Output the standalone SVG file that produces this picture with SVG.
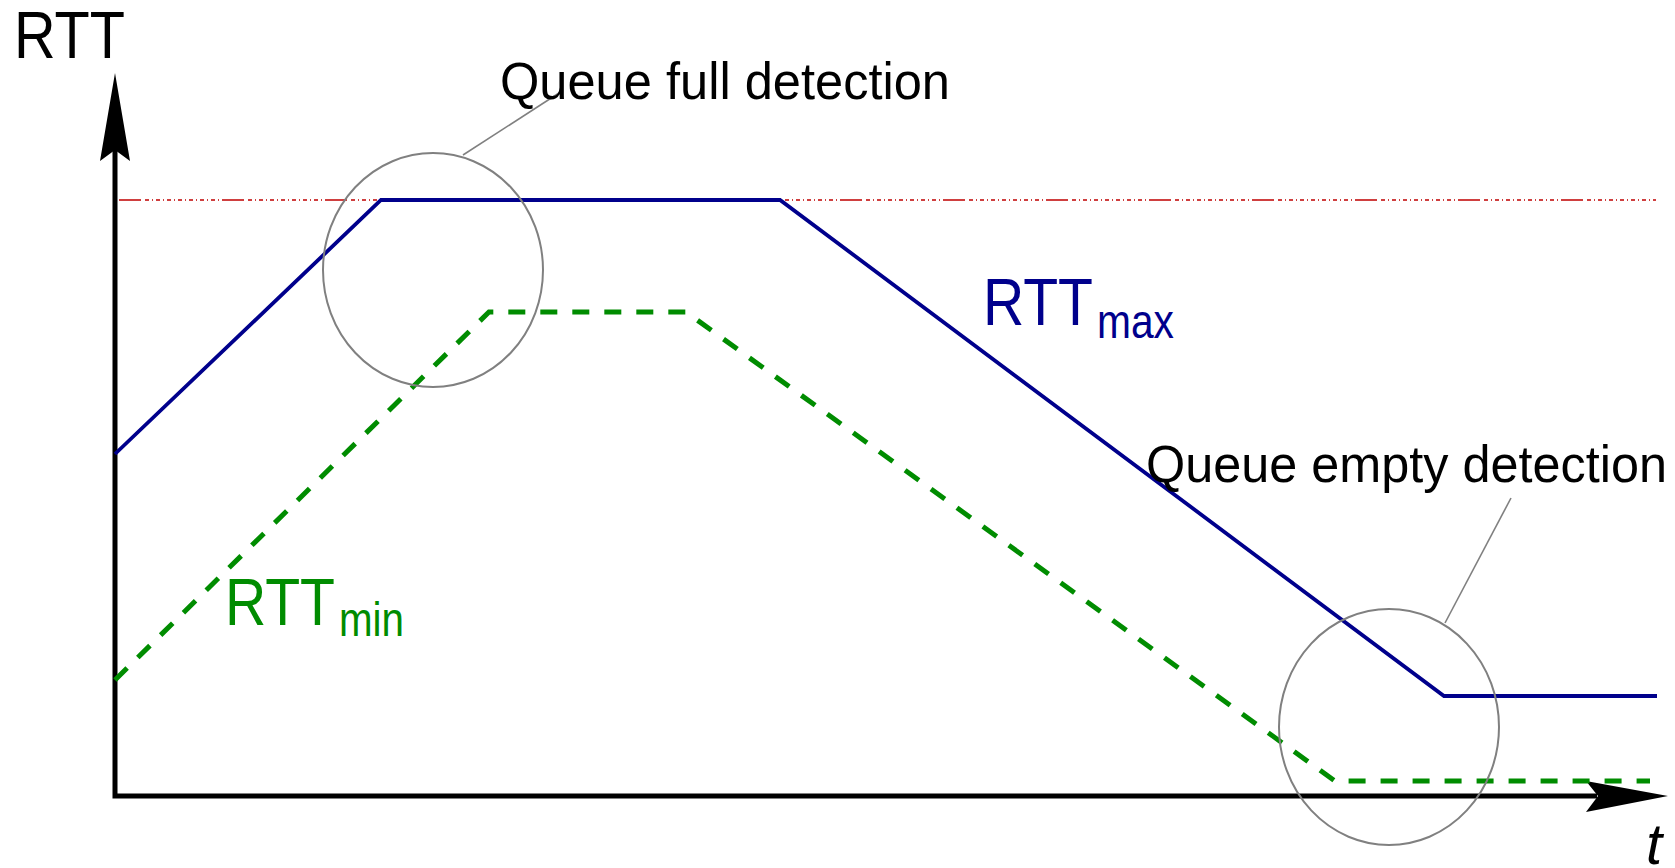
<svg xmlns="http://www.w3.org/2000/svg" width="1675" height="868" viewBox="0 0 1675 868">
<style>
.lbl{font-family:"Liberation Sans",Arial,sans-serif;fill:#000}
.axis{stroke:#000;stroke-width:5;fill:none}
.ring{stroke:#808080;stroke-width:2;fill:none}
.lead{stroke:#808080;stroke-width:1.6;fill:none}
.max{stroke:#00008c;stroke-width:3.8;fill:none;stroke-linejoin:miter}
.min{stroke:#008c00;stroke-width:5;fill:none;stroke-dasharray:17 15}
.ref{stroke:#c00000;stroke-width:1.6;fill:none;stroke-dasharray:22 4 4 3 1 3 4 3 1 3 4 3 1 3 4 3 1 3 4 3 1 3 4 3 1 3 4 3 1 3}
</style>
<rect width="1675" height="868" fill="#fff"/>
<g id="reference-line">
<line class="ref" x1="119" y1="200" x2="1656" y2="200"/>
</g>
<g id="axes">
<polyline class="axis" points="115,150 115,796 1597,796"/>
<polygon points="115,73 130,161 115,150 100,161" fill="#000"/>
<polygon points="1668,796 1586,781 1598,796 1586,812" fill="#000"/>
<text class="lbl" x="14" y="58" font-size="67" textLength="111" lengthAdjust="spacingAndGlyphs">RTT</text>
<text class="lbl" x="1646" y="864" font-size="58" font-style="italic">t</text>
</g>
<g id="connectors">
<polyline id="rtt-max" class="max" points="115,454 381,200 780,200 1444,696 1657,696"/>
<polyline id="rtt-min" class="min" points="115,680 489,312 686,312 1335,781 1650,781"/>
<line class="lead" x1="463" y1="155" x2="559" y2="93"/>
<line class="lead" x1="1445" y1="623" x2="1511" y2="498"/>
</g>
<g id="label-rtt-max">
<text class="lbl" x="983" y="325" font-size="67" style="fill:#00008c"><tspan textLength="110" lengthAdjust="spacingAndGlyphs">RTT</tspan><tspan x="1097" y="338" font-size="48" textLength="77" lengthAdjust="spacingAndGlyphs">max</tspan></text>
</g>
<g id="label-rtt-min">
<text class="lbl" x="225" y="625" font-size="67" style="fill:#008c00"><tspan textLength="110" lengthAdjust="spacingAndGlyphs">RTT</tspan><tspan x="339" y="636" font-size="48" textLength="65" lengthAdjust="spacingAndGlyphs">min</tspan></text>
</g>
<g id="queue-full">
<ellipse class="ring" cx="433" cy="270" rx="110" ry="117"/>
<text class="lbl" x="500" y="99" font-size="52" textLength="450" lengthAdjust="spacingAndGlyphs">Queue full detection</text>
</g>
<g id="queue-empty">
<ellipse class="ring" cx="1389" cy="727" rx="110" ry="118"/>
<text class="lbl" x="1146" y="482" font-size="52" textLength="521" lengthAdjust="spacingAndGlyphs">Queue empty detection</text>
</g>
</svg>
